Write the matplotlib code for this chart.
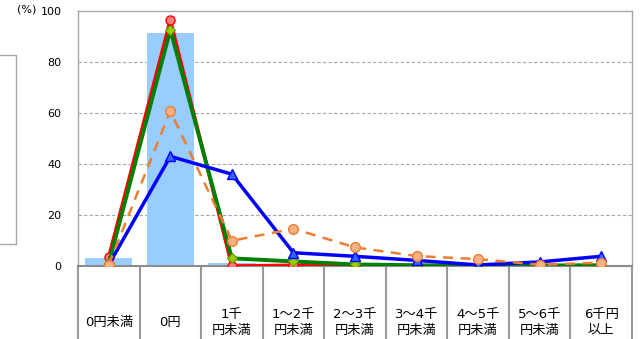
import matplotlib.pyplot as plt
import numpy as np
from matplotlib.patches import Rectangle

plt.rcParams['font.family'] = ['DejaVu Sans', 'Noto Sans CJK JP']

categories = ["0円未満", "0円", "1千\n円未満", "1～2千\n円未満", "2～3千\n円未満",
              "3～4千\n円未満", "4～5千\n円未満", "5～6千\n円未満", "6千円\n以上"]
bar_vals = [3.3, 91.5, 1.2, 0.3, 0.3, 0.3, 0.3, 0.3, 0.5]
red_vals = [3.6, 96.5, 0.0, 0.3, 0.1, 0.0, 0.0, 0.0, 0.1]
green_vals = [1.0, 92.7, 3.0, 1.8, 0.6, 0.3, 0.1, 0.2, 0.3]
blue_vals = [0.5, 43.0, 36.0, 5.2, 3.8, 2.2, 0.4, 1.6, 3.8]
orange_vals = [0.5, 60.8, 9.9, 14.6, 7.3, 3.9, 2.7, 0.5, 1.3]

fig = plt.figure(figsize=(6.43, 3.39), dpi=100)
ax = fig.add_axes([78 / 643, (339 - 266) / 339, (632 - 78) / 643, 255 / 339])

x = np.arange(len(categories))
ax.bar(x, bar_vals, width=0.77, color='#99CCFF', zorder=1)

ax.plot(x, red_vals, color='#FF0000', lw=2.5, marker='o', ms=6.5,
        mfc='#FF7F7F', mec='#FF0000', mew=1, zorder=3)
ax.plot(x, green_vals, color='#008000', lw=2.8, marker='D', ms=5,
        mfc='#99CC00', mec='#669900', mew=0.8, zorder=4)
ax.plot(x, blue_vals, color='#0000FF', lw=2.5, marker='^', ms=6.5,
        mfc='#3366FF', mec='#0000FF', mew=1, zorder=5)
ax.plot(x, orange_vals, color='#ED7D31', lw=1.8, ls=(0, (4, 3)), marker='o', ms=7,
        mfc='#F4B183', mec='#ED7D31', mew=1, zorder=6)

ax.set_xlim(-0.5, len(categories) - 0.5)
ax.set_ylim(0, 100)
ax.set_yticks([0, 20, 40, 60, 80, 100])
ax.tick_params(axis='y', length=0, labelsize=8, pad=12)
ax.set_xticks([])
for y in [20, 40, 60, 80]:
    ax.axhline(y, color='#A6A6A6', lw=0.8, ls=(0, (3, 2)), zorder=0)
for s in ['top', 'right', 'left']:
    ax.spines[s].set_color('#A6A6A6')
    ax.spines[s].set_linewidth(1)
ax.spines['bottom'].set_color('#8C8C8C')
ax.spines['bottom'].set_linewidth(1.5)

# table-like category area below the axis
trans = ax.get_xaxis_transform()
for b in np.arange(-0.5, len(categories), 1.0):
    ax.plot([b, b], [0, -0.32], color='#999999', lw=1.5, transform=trans, clip_on=False)
for i, lab in enumerate(categories):
    ax.text(i, -0.22, lab, transform=trans, ha='center', va='center',
            fontsize=9.5, linespacing=1.3)

fig.text(17 / 643, (339 - 10) / 339, "(%)", fontsize=8, va='center', ha='left')

fig.patches.append(Rectangle((-0.01, (339 - 244) / 339), 0.01 + 16 / 643, 189 / 339,
                             transform=fig.transFigure, fill=False,
                             edgecolor='#A6A6A6', lw=1))

fig.savefig("out.png", dpi=100)
